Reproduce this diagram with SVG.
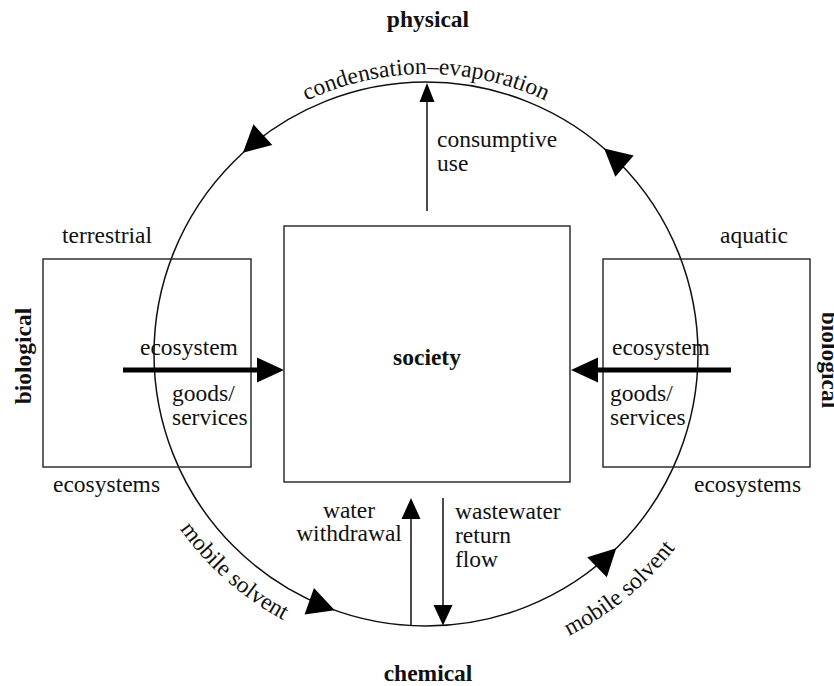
<svg xmlns="http://www.w3.org/2000/svg" width="834" height="686" viewBox="0 0 834 686">
  <style>
    .t { font-family: "Liberation Serif", "Times New Roman", serif; font-size: 23.5px; fill: #111; }
    .b { font-weight: bold; }
    .mid { text-anchor: middle; }
    .box { fill: none; stroke: #222; stroke-width: 1.4; }
    .thin { fill: none; stroke: #111; stroke-width: 1.5; }
    .thick { fill: none; stroke: #000; stroke-width: 5; }
    .head { fill: #000; stroke: none; }
  </style>
  <defs>
    <path id="arcTop" d="M183.5,214 A280,280 0 0 1 668.5,214"/>
    <path id="arcLeft" d="M127.4,399.2 A302,302 0 0 0 418.6,655.9"/>
    <path id="arcRight" d="M423.2,670 A316,316 0 0 0 736.7,411.6"/>
    <polygon id="cycleHead" points="0,0 -27,-14 -27,14"/>
  </defs>

  <rect width="834" height="686" fill="#fff"/>

  <!-- water cycle ring -->
  <g id="cycle">
    <circle class="thin" cx="426" cy="354" r="272"/>
    <use href="#cycleHead" class="head" transform="translate(242.9,152.8) rotate(137.7)"/>
    <use href="#cycleHead" class="head" transform="translate(604.1,148.4) rotate(-139.1)"/>
    <use href="#cycleHead" class="head" transform="translate(334.7,610.3) rotate(19.6)"/>
    <use href="#cycleHead" class="head" transform="translate(616.3,548.3) rotate(-44.4)"/>
    <text class="t"><textPath href="#arcTop" startOffset="50%" text-anchor="middle">condensation–evaporation</textPath></text>
    <text class="t"><textPath href="#arcLeft" startOffset="50%" text-anchor="middle">mobile solvent</textPath></text>
    <text class="t"><textPath href="#arcRight" startOffset="50%" text-anchor="middle">mobile solvent</textPath></text>
  </g>

  <!-- domain labels -->
  <g id="physical"><text class="t b mid" x="428" y="27">physical</text></g>
  <g id="chemical"><text class="t b mid" x="428" y="681">chemical</text></g>
  <g id="biological-left"><text class="t b mid" transform="translate(31,356) rotate(-90)">biological</text></g>
  <g id="biological-right"><text class="t b mid" transform="translate(822,360) rotate(90)">biological</text></g>

  <!-- society -->
  <g id="society">
    <rect class="box" x="284" y="226" width="286" height="256"/>
    <text class="t b mid" x="427" y="365">society</text>
  </g>

  <!-- terrestrial ecosystems -->
  <g id="terrestrial">
    <rect class="box" x="43" y="259" width="208" height="208"/>
    <text class="t" x="62" y="243">terrestrial</text>
    <text class="t" x="53" y="492">ecosystems</text>
    <text class="t" x="140" y="355">ecosystem</text>
    <text class="t" x="172" y="401">goods/</text>
    <text class="t" x="172" y="425">services</text>
  </g>

  <!-- aquatic ecosystems -->
  <g id="aquatic">
    <rect class="box" x="603" y="259" width="207" height="208"/>
    <text class="t" x="720" y="243">aquatic</text>
    <text class="t" x="694" y="492">ecosystems</text>
    <text class="t" x="612" y="355">ecosystem</text>
    <text class="t" x="610" y="401">goods/</text>
    <text class="t" x="610" y="425">services</text>
  </g>

  <!-- flows between society and the cycle -->
  <g id="connectors">
    <line class="thick" x1="123" y1="370" x2="258" y2="370"/>
    <polygon class="head" points="284,370 257,357.5 257,382.5"/>
    <line class="thick" x1="731" y1="370" x2="596" y2="370"/>
    <polygon class="head" points="571,370 598,357.5 598,382.5"/>

    <line class="thin" x1="427" y1="211" x2="427" y2="100"/>
    <polygon class="head" points="427,83 419.5,102 434.5,102"/>

    <line class="thin" x1="411" y1="625.6" x2="411" y2="517"/>
    <polygon class="head" points="411,498 401.5,519 420.5,519"/>

    <line class="thin" x1="443" y1="498" x2="443" y2="607"/>
    <polygon class="head" points="443,625.5 433.5,605 452.5,605"/>

    <text class="t" x="437" y="147">consumptive</text>
    <text class="t" x="437" y="171">use</text>
    <text class="t mid" x="349" y="518">water</text>
    <text class="t mid" x="349" y="541">withdrawal</text>
    <text class="t" x="455" y="519">wastewater</text>
    <text class="t" x="455" y="543">return</text>
    <text class="t" x="455" y="567">flow</text>
  </g>
</svg>
